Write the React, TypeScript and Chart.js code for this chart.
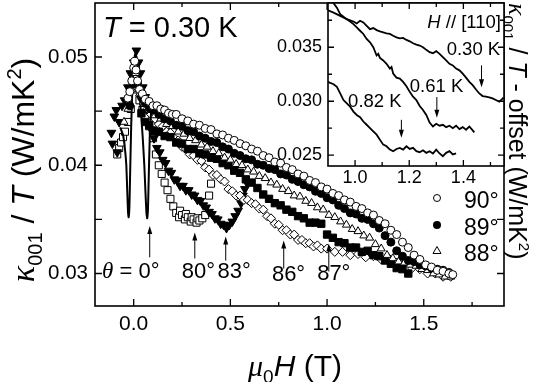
import React, { useEffect, useRef } from 'react';
import { Chart, registerables } from 'chart.js';
Chart.register(...registerables);

type P = [number, number];

// ---- main panel data (mu0H in T, kappa/T in W/mK^2) ----
const line0: P[] = [[-0.07,0.0435],[-0.055,0.0428],[-0.045,0.0415],[-0.038,0.040],[-0.033,0.0375],[-0.029,0.0356],[-0.026,0.0352],[-0.022,0.0362],[-0.018,0.0395],[-0.013,0.0435],[-0.007,0.047],[0.0,0.0492],[0.008,0.0503],[0.015,0.05],[0.022,0.0488],[0.03,0.0468],[0.038,0.0448],[0.047,0.0425],[0.055,0.04],[0.061,0.0375],[0.066,0.0356],[0.07,0.0351],[0.074,0.036],[0.078,0.039],[0.083,0.0425],[0.09,0.0448],[0.1,0.0455]];

const s90: P[] = [[-0.03,0.0462],[-0.02,0.0468],[-0.01,0.0478],[0.0,0.049],[0.005,0.0496],[0.012,0.0488],[0.02,0.0478],[0.03,0.047],[0.045,0.0466],[0.06,0.0461],[0.08,0.0459],[0.1,0.0455],[0.12,0.0455],[0.14,0.0452],[0.16,0.0451],[0.18,0.0448],[0.2,0.0447],[0.22,0.0447],[0.25,0.0443],[0.28,0.0441],[0.31,0.0438],[0.34,0.0437],[0.37,0.0434],[0.4,0.0433],[0.43,0.0429],[0.46,0.0428],[0.49,0.0425],[0.52,0.0423],[0.55,0.042],[0.58,0.0418],[0.61,0.0415],[0.64,0.0413],[0.67,0.0409],[0.7,0.0407],[0.73,0.0403],[0.76,0.0402],[0.79,0.0398],[0.82,0.0396],[0.85,0.0392],[0.88,0.039],[0.91,0.0386],[0.94,0.0384],[0.97,0.038],[1.0,0.0378],[1.03,0.0374],[1.06,0.0372],[1.09,0.0368],[1.12,0.0366],[1.15,0.0362],[1.18,0.036],[1.21,0.0356],[1.24,0.0354],[1.27,0.0349],[1.3,0.0346],[1.33,0.034],[1.36,0.0336],[1.39,0.0329],[1.42,0.0324],[1.45,0.0317],[1.48,0.0313],[1.51,0.0308],[1.54,0.0306],[1.57,0.0303],[1.6,0.0302],[1.63,0.03],[1.65,0.0299]];

const s89: P[] = [[-0.02,0.0455],[0.0,0.0475],[0.01,0.049],[0.02,0.0476],[0.04,0.0463],[0.06,0.0458],[0.08,0.0453],[0.1,0.0451],[0.13,0.0447],[0.16,0.0443],[0.19,0.0441],[0.22,0.0437],[0.25,0.0436],[0.28,0.0432],[0.31,0.0431],[0.34,0.0427],[0.37,0.0425],[0.4,0.0422],[0.43,0.0421],[0.46,0.0417],[0.49,0.0415],[0.52,0.0411],[0.55,0.0409],[0.58,0.0406],[0.61,0.0405],[0.64,0.0401],[0.67,0.04],[0.7,0.0397],[0.73,0.0396],[0.76,0.0392],[0.79,0.0391],[0.82,0.0387],[0.85,0.0385],[0.88,0.0382],[0.91,0.038],[0.94,0.0376],[0.97,0.0374],[1.0,0.037],[1.03,0.0368],[1.06,0.0363],[1.09,0.036],[1.12,0.0356],[1.15,0.0355],[1.18,0.0351],[1.21,0.035],[1.24,0.0346],[1.27,0.0342],[1.3,0.0335],[1.33,0.0329],[1.36,0.0321],[1.39,0.0316],[1.42,0.0312],[1.45,0.0311],[1.48,0.0308],[1.51,0.0307],[1.54,0.0305],[1.57,0.0304],[1.6,0.0303],[1.63,0.0301]];

const s88: P[] = [[-0.05,0.044],[-0.03,0.0452],[-0.01,0.047],[0.01,0.0485],[0.03,0.0466],[0.05,0.0458],[0.08,0.0451],[0.11,0.0446],[0.14,0.0443],[0.17,0.0438],[0.2,0.0436],[0.23,0.0431],[0.26,0.0429],[0.29,0.0425],[0.32,0.0423],[0.35,0.0419],[0.38,0.0417],[0.41,0.0413],[0.44,0.0411],[0.47,0.0407],[0.5,0.0405],[0.53,0.0401],[0.56,0.04],[0.59,0.0396],[0.62,0.0394],[0.65,0.039],[0.68,0.0388],[0.71,0.0384],[0.74,0.0382],[0.77,0.0378],[0.8,0.0376],[0.83,0.0372],[0.86,0.0371],[0.89,0.0367],[0.92,0.0365],[0.95,0.0361],[0.98,0.0359],[1.01,0.0354],[1.04,0.0352],[1.07,0.0348],[1.1,0.0345],[1.13,0.0341],[1.16,0.0339],[1.19,0.0335],[1.22,0.0333],[1.25,0.0327],[1.28,0.0323],[1.31,0.0317],[1.34,0.0314],[1.37,0.0311],[1.4,0.031],[1.43,0.0308],[1.46,0.0307],[1.49,0.0304],[1.52,0.0303],[1.55,0.03],[1.58,0.0299],[1.61,0.0297],[1.64,0.0297]];

const s87: P[] = [[0.04,0.0448],[0.06,0.044],[0.08,0.0437],[0.1,0.0432],[0.13,0.0431],[0.16,0.0427],[0.19,0.0426],[0.22,0.0421],[0.25,0.042],[0.28,0.0415],[0.31,0.0415],[0.34,0.0411],[0.37,0.041],[0.4,0.0407],[0.43,0.0406],[0.46,0.0402],[0.49,0.04],[0.52,0.0395],[0.55,0.0393],[0.58,0.0387],[0.61,0.0384],[0.64,0.0379],[0.67,0.0373],[0.7,0.0369],[0.73,0.0365],[0.76,0.0363],[0.79,0.0359],[0.82,0.0357],[0.85,0.0353],[0.88,0.0351],[0.91,0.0347],[0.94,0.0347],[0.97,0.0346],[1.0,0.0336],[1.03,0.0333],[1.06,0.0329],[1.09,0.0328],[1.12,0.0324],[1.15,0.0324],[1.18,0.032],[1.21,0.0321],[1.24,0.0317],[1.27,0.0316],[1.3,0.0312],[1.33,0.0309],[1.36,0.0305],[1.39,0.0304],[1.42,0.03]];

const s86: P[] = [[0.05,0.046],[0.07,0.0452],[0.09,0.0447],[0.11,0.0443],[0.13,0.0438],[0.15,0.0436],[0.17,0.0431],[0.19,0.043],[0.21,0.0425],[0.23,0.0423],[0.25,0.0417],[0.27,0.0415],[0.29,0.041],[0.31,0.0409],[0.33,0.0405],[0.35,0.0404],[0.37,0.0398],[0.39,0.0396],[0.41,0.0391],[0.43,0.0391],[0.45,0.0387],[0.47,0.0385],[0.49,0.0378],[0.51,0.0376],[0.53,0.0372],[0.55,0.0372],[0.57,0.0368],[0.59,0.0368],[0.61,0.0365],[0.63,0.0364],[0.65,0.036],[0.67,0.0359],[0.69,0.0353],[0.71,0.0351],[0.73,0.0346],[0.75,0.0345],[0.77,0.034],[0.79,0.034],[0.81,0.0336],[0.83,0.0336],[0.85,0.0331],[0.87,0.0331],[0.89,0.0328],[0.91,0.0328],[0.93,0.0325],[0.95,0.0326],[0.97,0.0323],[1.0,0.0323],[1.04,0.032],[1.08,0.032],[1.12,0.0317],[1.16,0.0318],[1.2,0.0315],[1.24,0.0316],[1.28,0.0313],[1.32,0.0314],[1.36,0.031],[1.4,0.031],[1.44,0.0305],[1.48,0.0304],[1.52,0.03],[1.56,0.03],[1.6,0.0297],[1.64,0.0297]];

const s83: P[] = [[-0.115,0.043],[-0.11,0.042],[-0.1,0.0445],[-0.09,0.0451],[-0.085,0.0412],[-0.075,0.044],[-0.06,0.0455],[-0.047,0.046],[-0.03,0.0472],[-0.017,0.0485],[0.0,0.0495],[0.014,0.0506],[0.025,0.0495],[0.035,0.0485],[0.047,0.0472],[0.06,0.0463],[0.075,0.045],[0.09,0.0433],[0.105,0.0425],[0.12,0.0416],[0.135,0.0412],[0.15,0.0405],[0.165,0.0402],[0.18,0.0395],[0.195,0.0393],[0.21,0.0387],[0.225,0.0386],[0.24,0.0381],[0.255,0.0381],[0.27,0.0377],[0.285,0.0377],[0.3,0.0373],[0.315,0.0372],[0.33,0.0368],[0.345,0.0367],[0.36,0.0363],[0.375,0.0361],[0.39,0.0357],[0.405,0.0355],[0.42,0.0351],[0.435,0.035],[0.45,0.0346],[0.465,0.0345],[0.48,0.0342],[0.495,0.0345],[0.51,0.0348],[0.525,0.0353],[0.54,0.0358],[0.555,0.0365],[0.565,0.0372],[0.575,0.0378],[0.585,0.0384]];

const s80: P[] = [[-0.085,0.041],[-0.075,0.0416],[-0.065,0.0421],[-0.055,0.0426],[-0.045,0.0431],[-0.03,0.044],[-0.015,0.0452],[0.0,0.047],[0.015,0.0472],[0.03,0.046],[0.045,0.0451],[0.06,0.0445],[0.08,0.0436],[0.1,0.0425],[0.115,0.041],[0.13,0.04],[0.145,0.0392],[0.16,0.0384],[0.175,0.0377],[0.19,0.0369],[0.205,0.0362],[0.22,0.0356],[0.235,0.0352],[0.24,0.0358],[0.25,0.0354],[0.265,0.035],[0.27,0.0355],[0.28,0.0352],[0.295,0.0348],[0.3,0.0352],[0.31,0.035],[0.325,0.0347],[0.33,0.0351],[0.34,0.0349],[0.355,0.0351],[0.37,0.0354],[0.39,0.0372],[0.4,0.0383]];

// ---- inset data (mu0H in T, kappa/T - offset) ----
const in030: P[] = [[0.9,0.03843],[0.9205,0.03821],[0.945,0.03791],[0.9695,0.0376],[0.9939,0.03739],[1.0061,0.0372],[1.0184,0.03745],[1.0306,0.0373],[1.0428,0.03699],[1.0551,0.03668],[1.0673,0.03678],[1.0795,0.03659],[1.0918,0.03647],[1.104,0.03638],[1.1162,0.03629],[1.1285,0.03623],[1.1407,0.03607],[1.1529,0.03592],[1.1652,0.03583],[1.1774,0.03586],[1.1896,0.03568],[1.2019,0.03555],[1.2141,0.03537],[1.2263,0.03525],[1.2386,0.03516],[1.2508,0.035],[1.263,0.03476],[1.2753,0.03454],[1.2875,0.03445],[1.2997,0.03464],[1.312,0.03439],[1.3242,0.03408],[1.3364,0.03378],[1.3487,0.03347],[1.3609,0.03332],[1.3731,0.03302],[1.3854,0.03286],[1.3976,0.03256],[1.4098,0.03219],[1.422,0.03179],[1.4343,0.03149],[1.4465,0.03109],[1.4588,0.03072],[1.471,0.03048],[1.4832,0.03042],[1.4955,0.03035],[1.5077,0.03026],[1.5199,0.03011],[1.5322,0.02996],[1.542,0.03017],[1.548,0.03035]];

const in061: P[] = [[0.917,0.0392],[0.9328,0.03867],[0.945,0.03806],[0.9572,0.03782],[0.9695,0.0376],[0.9817,0.03739],[0.9939,0.03714],[1.0061,0.03684],[1.0184,0.03653],[1.0306,0.03623],[1.0428,0.03577],[1.0551,0.03546],[1.0673,0.035],[1.0795,0.03424],[1.0857,0.03439],[1.0918,0.03402],[1.104,0.03378],[1.1162,0.03347],[1.1285,0.03302],[1.1346,0.03317],[1.1407,0.03256],[1.1529,0.03219],[1.1652,0.0321],[1.1774,0.03179],[1.1896,0.03139],[1.2019,0.03087],[1.2141,0.03042],[1.2263,0.03011],[1.2386,0.02956],[1.2508,0.02919],[1.263,0.02873],[1.2753,0.02803],[1.2875,0.02766],[1.2997,0.02791],[1.312,0.02773],[1.3242,0.02782],[1.3364,0.0276],[1.3487,0.02773],[1.3609,0.02751],[1.3731,0.02773],[1.3854,0.02742],[1.3976,0.0276],[1.4098,0.02736],[1.422,0.02766],[1.4343,0.0273],[1.4404,0.02711]];

const in082: P[] = [[0.9,0.03179],[0.9083,0.0317],[0.9205,0.03158],[0.9328,0.03133],[0.945,0.03072],[0.9572,0.03011],[0.9695,0.0298],[0.9817,0.0295],[0.9939,0.02904],[1.0061,0.02873],[1.0184,0.02852],[1.0306,0.02812],[1.0428,0.02782],[1.0551,0.02751],[1.0673,0.0272],[1.0795,0.0269],[1.0918,0.02644],[1.104,0.02598],[1.1162,0.02583],[1.1285,0.02552],[1.1407,0.02537],[1.1529,0.02558],[1.1652,0.02568],[1.1774,0.02552],[1.1896,0.02583],[1.2019,0.02558],[1.2141,0.02568],[1.2263,0.02537],[1.2386,0.02528],[1.2508,0.02546],[1.263,0.02522],[1.2753,0.02537],[1.2875,0.02516],[1.2997,0.02552],[1.312,0.02516],[1.3242,0.02491],[1.3364,0.02522],[1.3487,0.02537],[1.3609,0.02507],[1.3731,0.02516]];

// ---- ticks & annotations ----
const MAIN_X_MAJOR = [0, 0.5, 1.0, 1.5];
const MAIN_X_MINOR = [0.25, 0.75, 1.25, 1.75];
const MAIN_Y_TICKS = [0.03, 0.035, 0.04, 0.045, 0.05];
const INSET_X_MAJOR = [1.0, 1.2, 1.4];
const INSET_X_MINOR = [1.1, 1.3, 1.5];
const INSET_Y_MAJOR = [0.025, 0.03, 0.035];
const INSET_Y_MINOR = [0.0275, 0.0325, 0.0375];

const ANGLE_DIGITS = ['0', '80', '83', '86', '87'];
const ARROW_X = [0.083, 0.316, 0.476, 0.776, 1.009];
const LABEL_X = [0.083, 0.312, 0.497, 0.778, 1.012];
const ARROW_TIP = [0.0344, 0.0338, 0.03343, 0.03306, 0.03278];
const ARROW_BASE = [0.0315, 0.03139, 0.0312, 0.03046, 0.03019];
const LABEL_BASE = [0.02963, 0.02963, 0.02963, 0.02935, 0.02944];

const LEGEND_LABELS = ['90°', '89°', '88°'];

const TEMP_LABELS = ['0.30 K', '0.61 K', '0.82 K'];
const TEMP_LABEL_X = [1.437, 1.301, 1.073];
const TEMP_LABEL_Y = [0.03424, 0.03084, 0.02947];
const TEMP_ARROW_X = [1.467, 1.302, 1.171];
const TEMP_ARROW_BASE = [0.03332, 0.03039, 0.02828];
const TEMP_ARROW_TIP = [0.0313, 0.02846, 0.02662];

const SANS = "'Liberation Sans', Arial, Helvetica, sans-serif";
const SERIF = "'Liberation Serif', 'Times New Roman', serif";

type Run = { t: string; f: string; dy?: number };

function runsWidth(ctx: CanvasRenderingContext2D, runs: Run[]) {
  let w = 0;
  for (const r of runs) { ctx.font = r.f; w += ctx.measureText(r.t).width; }
  return w;
}

function drawRuns(ctx: CanvasRenderingContext2D, runs: Run[], x: number, y: number, align: 'left' | 'center' | 'right', rot = 0) {
  ctx.save();
  ctx.translate(x, y);
  ctx.rotate(rot);
  const w = runsWidth(ctx, runs);
  let cx = align === 'center' ? -w / 2 : align === 'right' ? -w : 0;
  ctx.textAlign = 'left';
  ctx.textBaseline = 'alphabetic';
  ctx.fillStyle = '#000';
  for (const r of runs) {
    ctx.font = r.f;
    ctx.fillText(r.t, cx, r.dy || 0);
    cx += ctx.measureText(r.t).width;
  }
  ctx.restore();
}

function drawArrow(ctx: CanvasRenderingContext2D, x: number, yBase: number, yTip: number) {
  const dir = Math.sign(yTip - yBase);
  ctx.save();
  ctx.strokeStyle = '#000';
  ctx.fillStyle = '#000';
  ctx.lineWidth = 1;
  ctx.beginPath();
  ctx.moveTo(x, yBase);
  ctx.lineTo(x, yTip - dir * 4);
  ctx.stroke();
  ctx.beginPath();
  ctx.moveTo(x, yTip);
  ctx.lineTo(x - 2.5, yTip - dir * 8);
  ctx.lineTo(x + 2.5, yTip - dir * 8);
  ctx.closePath();
  ctx.fill();
  ctx.restore();
}

function drawFrame(chart: any, xMajor: number[], xMinor: number[], yMajor: number[], yMinor: number[], majLen: number, minLen: number, yMinorLen: number) {
  const ctx: CanvasRenderingContext2D = chart.ctx;
  const { left, right, top, bottom } = chart.chartArea;
  const xs = chart.scales.x, ys = chart.scales.y;
  ctx.save();
  ctx.strokeStyle = '#000';
  ctx.lineWidth = 1.3;
  ctx.beginPath();
  const vt = (v: number, len: number) => {
    const p = xs.getPixelForValue(v);
    ctx.moveTo(p, bottom); ctx.lineTo(p, bottom - len);
    ctx.moveTo(p, top); ctx.lineTo(p, top + len);
  };
  const ht = (v: number, len: number) => {
    const p = ys.getPixelForValue(v);
    ctx.moveTo(left, p); ctx.lineTo(left + len, p);
    ctx.moveTo(right, p); ctx.lineTo(right - len, p);
  };
  xMajor.forEach(v => vt(v, majLen));
  xMinor.forEach(v => vt(v, minLen));
  yMajor.forEach(v => ht(v, majLen));
  yMinor.forEach(v => ht(v, yMinorLen));
  ctx.stroke();
  ctx.lineWidth = 1.6;
  ctx.strokeRect(left, top, right - left, bottom - top);
  ctx.restore();
}

const mainDecor = {
  id: 'mainDecor',
  afterDraw(chart: any) {
    const ctx: CanvasRenderingContext2D = chart.ctx;
    const xs = chart.scales.x, ys = chart.scales.y;
    const { left, right, top } = chart.chartArea;
    drawFrame(chart, MAIN_X_MAJOR, MAIN_X_MINOR, MAIN_Y_TICKS, [], 7, 4, 7);

    drawRuns(ctx, [{ t: 'T', f: `italic 29px ${SANS}` }, { t: ' = 0.30 K', f: `29px ${SANS}` }], left + 8, top + 34, 'left');

    const lf = `22px ${SANS}`;
    ARROW_X.forEach((xv, i) => {
      const px = xs.getPixelForValue(xv);
      const lx = xs.getPixelForValue(LABEL_X[i]);
      drawArrow(ctx, px, ys.getPixelForValue(ARROW_BASE[i]), ys.getPixelForValue(ARROW_TIP[i]));
      const by = ys.getPixelForValue(LABEL_BASE[i]);
      if (i === 0) {
        drawRuns(ctx, [{ t: 'θ', f: `italic 23px ${SERIF}` }, { t: ' = ' + ANGLE_DIGITS[i], f: lf }], lx + 1, by, 'right');
        drawRuns(ctx, [{ t: '°', f: lf }], lx + 1, by, 'left');
      } else {
        ctx.font = lf;
        const w = ctx.measureText(ANGLE_DIGITS[i]).width;
        drawRuns(ctx, [{ t: ANGLE_DIGITS[i] + '°', f: lf }], lx - w / 2, by, 'left');
      }
    });

    const mx = right - 67, tx = right - 40;
    const rows = [208, 235, 261];
    LEGEND_LABELS.forEach((lab, i) => {
      const by = rows[i];
      const my = by - 10;
      ctx.save();
      ctx.strokeStyle = '#000'; ctx.lineWidth = 1;
      ctx.beginPath();
      if (i === 0) { ctx.arc(mx, my, 3.5, 0, Math.PI * 2); ctx.fillStyle = '#fff'; ctx.fill(); ctx.stroke(); }
      else if (i === 1) { ctx.arc(mx, my, 4, 0, Math.PI * 2); ctx.fillStyle = '#000'; ctx.fill(); }
      else { ctx.moveTo(mx, my - 4.5); ctx.lineTo(mx + 4, my + 2.5); ctx.lineTo(mx - 4, my + 2.5); ctx.closePath(); ctx.fillStyle = '#fff'; ctx.fill(); ctx.stroke(); }
      ctx.restore();
      drawRuns(ctx, [{ t: lab, f: `23px ${SANS}` }], tx, by, 'left');
    });

    drawRuns(ctx, [
      { t: 'μ', f: `italic 30px ${SERIF}` },
      { t: '0', f: `19px ${SANS}`, dy: 7 },
      { t: 'H', f: `italic 30px ${SANS}` },
      { t: ' (T)', f: `30px ${SANS}` },
    ], 295, 376, 'center');

    drawRuns(ctx, [
      { t: 'κ', f: `italic 34px ${SERIF}` },
      { t: '001', f: `20px ${SANS}`, dy: 8 },
      { t: ' / ', f: `32px ${SANS}` },
      { t: 'T', f: `italic 32px ${SANS}` },
      { t: ' (W/mK', f: `32px ${SANS}` },
      { t: '2', f: `20px ${SANS}`, dy: -13 },
      { t: ')', f: `32px ${SANS}` },
    ], 34, 170, 'center', -Math.PI / 2);

    drawRuns(ctx, [
      { t: 'κ', f: `italic 26px ${SERIF}` },
      { t: '001', f: `15px ${SANS}`, dy: 6 },
      { t: ' / ', f: `25px ${SANS}` },
      { t: 'T', f: `italic 25px ${SANS}` },
      { t: ' - offset (W/mK', f: `25px ${SANS}` },
      { t: '2', f: `15px ${SANS}`, dy: -10 },
      { t: ')', f: `25px ${SANS}` },
    ], 509, 3, 'left', Math.PI / 2);
  },
};

const insetDecor = {
  id: 'insetDecor',
  beforeDraw(chart: any) {
    const ctx: CanvasRenderingContext2D = chart.ctx;
    const { left, right, top, bottom } = chart.chartArea;
    ctx.save();
    ctx.fillStyle = '#fff';
    ctx.fillRect(left, top, right - left, bottom - top);
    ctx.restore();
  },
  afterDraw(chart: any) {
    const ctx: CanvasRenderingContext2D = chart.ctx;
    const xs = chart.scales.x, ys = chart.scales.y;
    const { right, top } = chart.chartArea;
    drawFrame(chart, INSET_X_MAJOR, INSET_X_MINOR, INSET_Y_MAJOR, INSET_Y_MINOR, 6, 4, 4);
    const f = `18.5px ${SANS}`;
    drawRuns(ctx, [{ t: 'H', f: `italic 18.5px ${SANS}` }, { t: ' // [110]', f }], right - 3, top + 25, 'right');
    TEMP_LABELS.forEach((lab, i) => {
      drawRuns(ctx, [{ t: lab, f }], xs.getPixelForValue(TEMP_LABEL_X[i]), ys.getPixelForValue(TEMP_LABEL_Y[i]), 'center');
      drawArrow(ctx, xs.getPixelForValue(TEMP_ARROW_X[i]), ys.getPixelForValue(TEMP_ARROW_BASE[i]), ys.getPixelForValue(TEMP_ARROW_TIP[i]));
    });
  },
};

function toXY(d: P[]) { return d.map(([x, y]) => ({ x, y })); }

function markerSet(label: string, d: P[], style: string, filled: boolean, radius: number, rotation = 0) {
  return {
    label,
    data: toXY(d),
    pointStyle: style,
    pointRadius: radius,
    pointRotation: rotation,
    pointBackgroundColor: filled ? '#000' : '#fff',
    pointBorderColor: '#000',
    pointBorderWidth: 1,
    showLine: false,
  };
}

const noPadX = (h: number) => (s: any) => { s.height = h; s.paddingLeft = 0; s.paddingRight = 0; s.paddingTop = 0; s.paddingBottom = 0; };
const noPadY = (w: number) => (s: any) => { s.width = w; s.paddingLeft = 0; s.paddingRight = 0; s.paddingTop = 0; s.paddingBottom = 0; };

export default function App() {
  const mainRef = useRef<HTMLCanvasElement>(null);
  const insetRef = useRef<HTMLCanvasElement>(null);

  useEffect(() => {
    Chart.defaults.font.family = SANS;
    Chart.defaults.color = '#000';
    const main = new Chart(mainRef.current as HTMLCanvasElement, {
      type: 'scatter',
      data: {
        datasets: [
          markerSet('90°', s90, 'circle', false, 4),
          markerSet('89°', s89, 'circle', true, 4),
          markerSet('88°', s88, 'triangle', false, 4.6),
          { label: '0°', data: toXY(line0), showLine: true, pointRadius: 0, borderColor: '#000', borderWidth: 2, tension: 0.15 } as any,
          markerSet('87°', s87, 'rect', true, 5.2),
          markerSet('86°', s86, 'rectRot', false, 4.5),
          markerSet('83°', s83, 'triangle', true, 5, 180),
          markerSet('80°', s80, 'rect', false, 5),
        ],
      },
      options: {
        responsive: false,
        animation: false,
        events: [],
        layout: { autoPadding: false, padding: { left: 0, right: 41, top: 3, bottom: 0 } },
        plugins: { legend: { display: false }, tooltip: { enabled: false }, title: { display: false } },
        scales: {
          x: {
            type: 'linear', min: -0.2, max: 1.915,
            grid: { display: false, drawTicks: false },
            border: { display: false },
            ticks: { stepSize: 0.5, includeBounds: false, padding: 6, maxRotation: 0, font: { size: 21, family: SANS }, color: '#000',
              callback: (v: any) => Number(v).toFixed(1) },
            afterFit: noPadX(76),
          },
          y: {
            type: 'linear', min: 0.027, max: 0.05499,
            grid: { display: false, drawTicks: false },
            border: { display: false },
            ticks: { stepSize: 0.005, includeBounds: false, padding: 7, font: { size: 20.5, family: SANS }, color: '#000',
              callback: (v: any) => {
                const n = Number(v);
                const r = Math.round(n * 100);
                return Math.abs(n * 100 - r) < 1e-6 && n < 0.0505 ? n.toFixed(2) : '';
              } },
            afterFit: noPadY(95),
          },
        },
      },
      plugins: [mainDecor],
    } as any);

    const inset = new Chart(insetRef.current as HTMLCanvasElement, {
      type: 'scatter',
      data: {
        datasets: [
          { label: '0.30 K', data: toXY(in030), showLine: true, pointRadius: 0, borderColor: '#000', borderWidth: 1.8 },
          { label: '0.61 K', data: toXY(in061), showLine: true, pointRadius: 0, borderColor: '#000', borderWidth: 1.8 },
          { label: '0.82 K', data: toXY(in082), showLine: true, pointRadius: 0, borderColor: '#000', borderWidth: 1.8 },
        ],
      },
      options: {
        responsive: false,
        animation: false,
        events: [],
        layout: { autoPadding: false, padding: { left: 270, right: 41, top: 3, bottom: 192 } },
        plugins: { legend: { display: false }, tooltip: { enabled: false } },
        scales: {
          x: {
            type: 'linear', min: 0.9, max: 1.55,
            grid: { display: false, drawTicks: false },
            border: { display: false },
            ticks: { stepSize: 0.2, includeBounds: false, padding: 1, maxRotation: 0, font: { size: 18, family: SANS }, color: '#000',
              callback: (v: any) => Number(v).toFixed(1) },
            afterFit: noPadX(24),
          },
          y: {
            type: 'linear', min: 0.024, max: 0.0391,
            grid: { display: false, drawTicks: false },
            border: { display: false },
            ticks: { stepSize: 0.005, includeBounds: false, padding: 6, font: { size: 18, family: SANS }, color: '#000',
              callback: (v: any) => Number(v).toFixed(3) },
            afterFit: noPadY(58),
          },
        },
      },
      plugins: [insetDecor],
    } as any);

    return () => { main.destroy(); inset.destroy(); };
  }, []);

  return (
    <div style={{ position: 'absolute', left: 0, top: 0, width: 545, height: 382, background: '#fff' }}>
      <canvas ref={mainRef} width={545} height={382} style={{ position: 'absolute', left: 0, top: 0 }} />
      <canvas ref={insetRef} width={545} height={382} style={{ position: 'absolute', left: 0, top: 0 }} />
    </div>
  );
}
